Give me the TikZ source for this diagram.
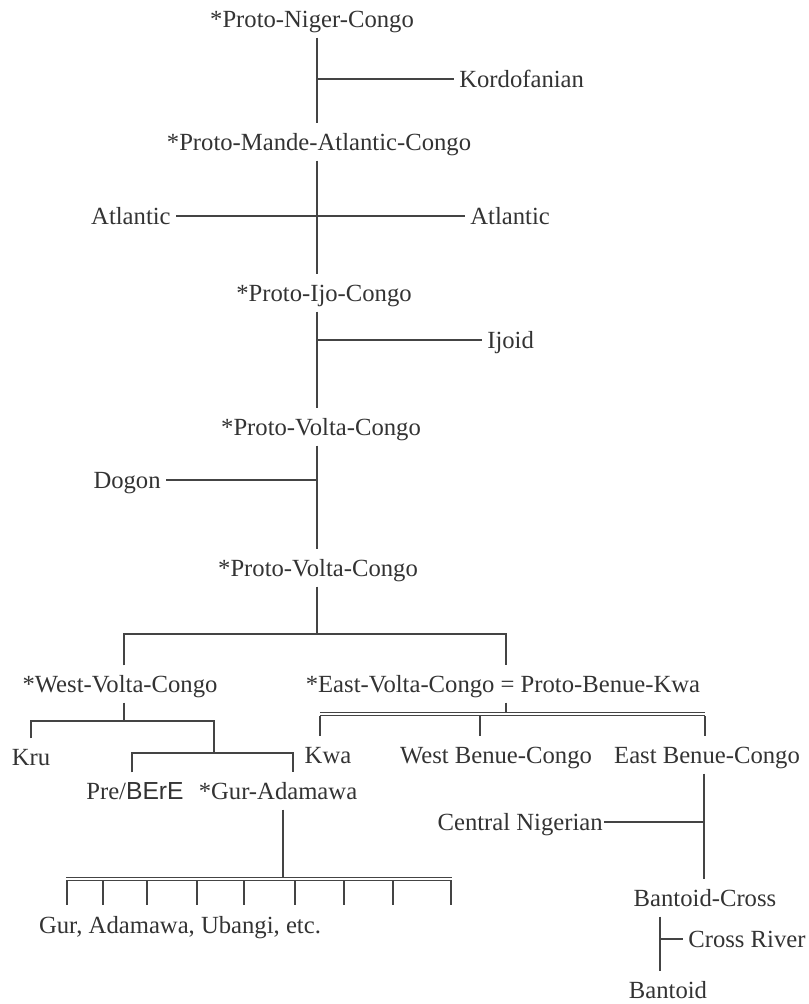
\documentclass[tikz,border=0pt]{standalone}
\usepackage{fontspec}
\setmainfont{Liberation Serif}
\newfontfamily\sansfam{Liberation Sans}
\usepackage{tikz}
\usetikzlibrary{calc}
\definecolor{ink}{HTML}{333333}
\definecolor{wire}{HTML}{444444}
\tikzset{
  lang/.style={inner sep=2pt, outer sep=2pt, text=ink, text height=16.5pt, text depth=3.5pt,
    font=\fontsize{18.5}{21}\selectfont},
  link/.style={draw=wire, line width=1.4pt},
  dlink/.style={draw=wire, double, double distance=1pt, line width=1pt}
}

\begin{document}
\begin{tikzpicture}[x=0.75pt,y=0.75pt,yscale=-1,xscale=1]
        \path[use as bounding box] (0,0) rectangle (808,1004);
        % Text Node
        \node[lang] (png) at (312,19) {*Proto-Niger-Congo};
        \node[lang,anchor=west] (kord) at (454,79) {Kordofanian};
        \node[lang] (pmac) at (319,142) {*Proto-Mande-Atlantic-Congo};
        \node[lang,anchor=east] (atll) at (176,216) {Atlantic};
        \node[lang,anchor=west] (atlr) at (465,216) {Atlantic};
        \node[lang] (pic) at (324,293) {*Proto-Ijo-Congo};
        \node[lang,anchor=west] (ijoid) at (482,340) {Ijoid};
        \node[lang] (pvca) at (321,427) {*Proto-Volta-Congo};
        \node[lang,anchor=east] (dogon) at (166,480) {Dogon};
        \node[lang] (pvcb) at (318,568) {*Proto-Volta-Congo};
        \node[lang] (wvc) at (120,684) {*West-Volta-Congo};
        \node[lang] (evc) at (503,684) {*East-Volta-Congo = Proto-Benue-Kwa};
        \node[lang] (kru) at (31,757) {Kru};
        \node[lang] (pre) at (135,791) {Pre/{\sansfam BErE}};
        \node[lang] (gur) at (278,791) {*Gur-Adamawa};
        \node[lang] (gae) at (180,925) {Gur, Adamawa, Ubangi, etc.};
        \node[lang] (kwa) at (328,755) {Kwa};
        \node[lang] (wbc) at (496,755) {West Benue-Congo};
        \node[lang] (ebc) at (707,755) {East Benue-Congo};
        \node[lang,anchor=east,outer sep=0pt,inner sep=1pt] (cn) at (604,822) {Central Nigerian};
        \node[lang] (bc) at (705,898) {Bantoid-Cross};
        \node[lang,anchor=west] (cr) at (683,939) {Cross River};
        \node[lang] (ban) at (668,990) {Bantoid};
        % Junctions
        \coordinate (t1) at (317,79);
        \coordinate (t3) at (317,340);
        \coordinate (t4) at (317,480);
        \coordinate (t5) at (317,634);
        \coordinate (c6) at (124,721);
        \coordinate (c7) at (214,753);
        \coordinate (c8) at (283,879);
        \coordinate (g0) at (66,879);
        \coordinate (g1) at (452,879);
        \coordinate (gb) at (0,881);
        \coordinate (ej) at (506,714);
        \coordinate (e0) at (320,714);
        \coordinate (e1) at (705,714);
        \coordinate (eb) at (0,716);
        \coordinate (ew) at (480,716);
        \coordinate (c9) at (704,822);
        \coordinate (c10) at (660,939);
        %Straight Lines: trunk
        \draw[link] (png.south -| t1) -- (pmac.north -| t1);
        \draw[link] (t1) -- (kord.west);
        \draw[link] (pmac.south -| t1) -- (pic.north -| t1);
        \draw[link] (atll.east) -- (atlr.west);
        \draw[link] (pic.south -| t3) -- (pvca.north -| t3);
        \draw[link] (t3) -- (ijoid.west);
        \draw[link] (pvca.south -| t4) -- (pvcb.north -| t4);
        \draw[link] (dogon.east) -- (t4);
        \draw[link] (pvcb.south -| t5) -- (t5);
        \draw[link] ([xshift=3pt]wvc.north) |- (t5) -| ([xshift=2pt]evc.north);
        %Straight Lines: west
        \draw[link] (wvc.south -| c6) -- (c6);
        \draw[link] (kru.north) |- (c6) -| (c7);
        \draw[link] ([xshift=-2pt]pre.north) |- (c7) -| ([xshift=11pt]gur.north);
        \draw[link] (gur.south -| c8) -- (c8);
        \draw[dlink] (g0) -- (g1);
        \foreach \x [count=\i] in {67,103,147,197,244,295,344,393,451}{
            \coordinate (gt\i) at (\x,905);
            \draw[link] (gt\i |- gb) -- (gt\i);
        }
        %Straight Lines: east
        \draw[link] (evc.south -| ej) -- (ej);
        \draw[dlink] (e0) -- (e1);
        \draw[link] (e0 |- eb) -- (kwa.north -| e0);
        \draw[link] (ew) -- (wbc.north -| ew);
        \draw[link] (e1 |- eb) -- (ebc.north -| e1);
        \draw[link] (ebc.south -| c9) -- (bc.north -| c9);
        \draw[link] (cn.east) -- (c9);
        \draw[link] (bc.south -| c10) -- (ban.north -| c10);
        \draw[link] (c10) -- (cr.west);
\end{tikzpicture}
\end{document}
